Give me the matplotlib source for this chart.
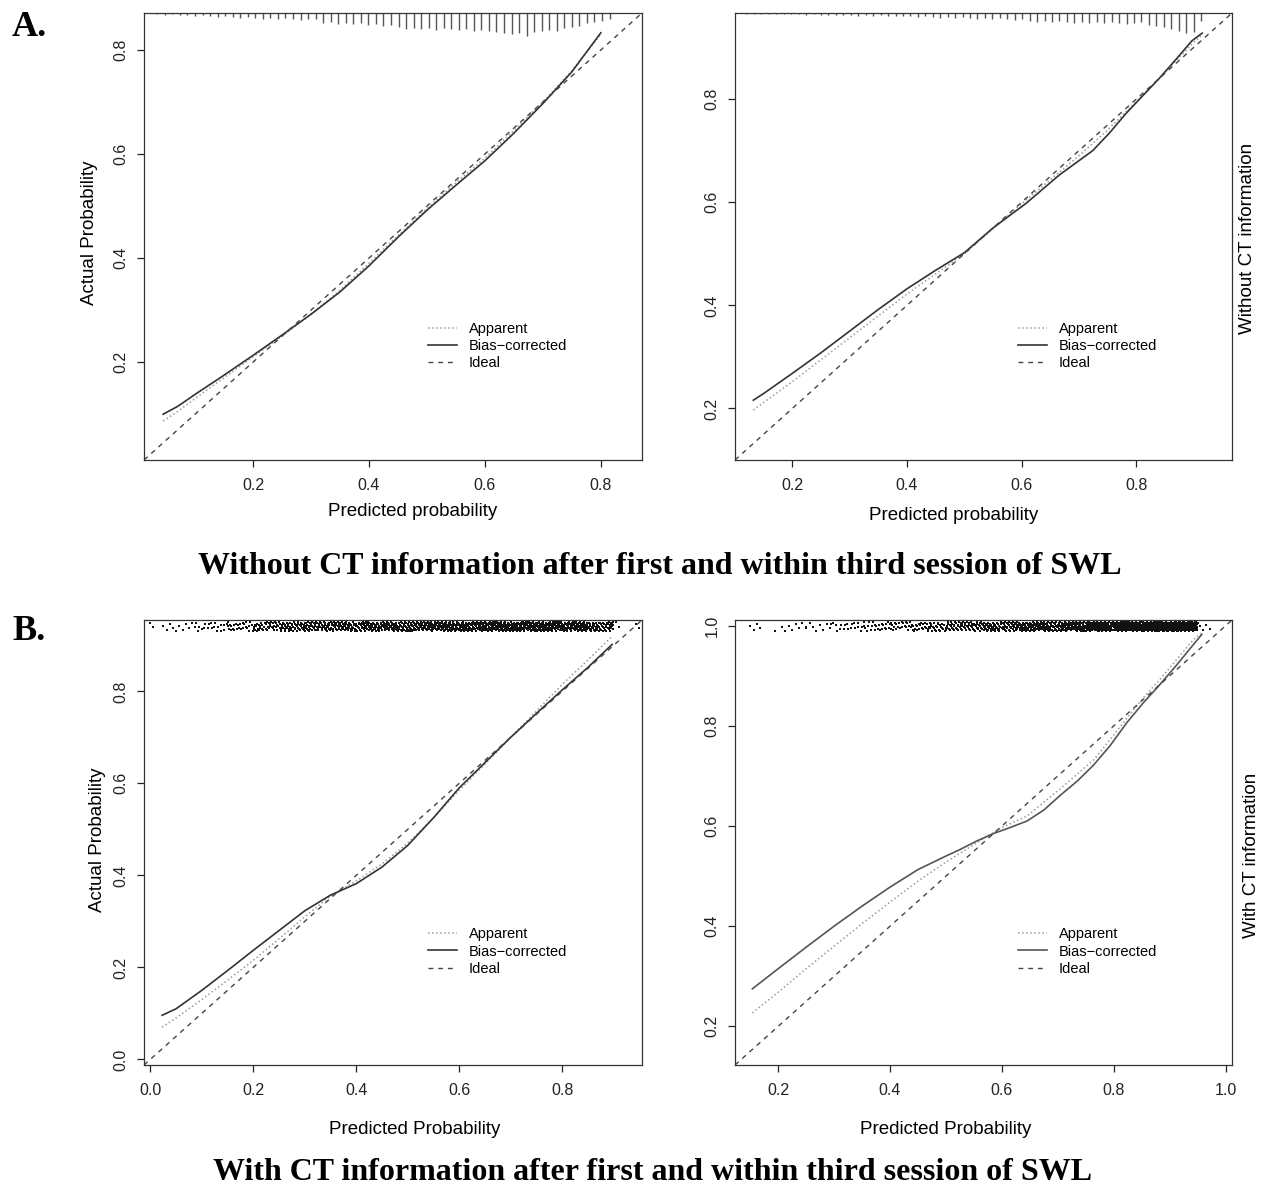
import matplotlib
matplotlib.use('Agg')
import matplotlib.pyplot as plt
import numpy as np

plt.rcParams['font.family'] = ['Liberation Sans', 'DejaVu Sans']

# ---- A 左图：无CT信息 ----
a1_bias_x = [0.045, 0.07, 0.10, 0.15, 0.20, 0.25, 0.30, 0.35, 0.40, 0.45, 0.50, 0.55, 0.60, 0.65, 0.70, 0.75, 0.80]
a1_bias_y = [0.100, 0.115, 0.138, 0.175, 0.213, 0.252, 0.292, 0.335, 0.385, 0.440, 0.492, 0.540, 0.587, 0.640, 0.697, 0.758, 0.833]
a1_app_x = [0.045, 0.07, 0.10, 0.15, 0.20, 0.25, 0.30, 0.35, 0.40, 0.45, 0.50, 0.55, 0.60, 0.65, 0.70, 0.75, 0.80]
a1_app_y = [0.087, 0.105, 0.130, 0.170, 0.210, 0.250, 0.292, 0.338, 0.390, 0.443, 0.495, 0.545, 0.592, 0.645, 0.700, 0.760, 0.830]
a1_rug_x0, a1_rug_step = 0.035, 0.013
a1_rug_h = [1, 2, 1, 2, 2, 3, 2, 3, 4, 3, 4, 5, 4, 5, 6, 5, 6, 5, 6, 7, 6, 6,
            10, 9, 11, 10, 11, 10, 12, 11, 13, 12, 14, 16, 15, 16, 15, 17, 15, 16,
            17, 16, 18, 17, 18, 19, 20, 21, 20, 23, 19, 18, 17, 18, 15, 14, 13, 10, 9, 8, 6]

# ---- A 右图 ----
a2_bias_x = [0.132, 0.15, 0.20, 0.25, 0.30, 0.35, 0.40, 0.45, 0.50, 0.55, 0.608, 0.666, 0.724, 0.753, 0.782, 0.81, 0.84, 0.87, 0.897, 0.915]
a2_bias_y = [0.216, 0.229, 0.268, 0.308, 0.350, 0.392, 0.432, 0.468, 0.502, 0.550, 0.598, 0.653, 0.700, 0.734, 0.772, 0.805, 0.840, 0.878, 0.913, 0.928]
a2_app_x = [0.132, 0.20, 0.30, 0.40, 0.50, 0.60, 0.70, 0.75, 0.80, 0.85, 0.90, 0.915]
a2_app_y = [0.197, 0.252, 0.337, 0.422, 0.500, 0.597, 0.690, 0.740, 0.795, 0.852, 0.910, 0.925]
a2_rug_x0, a2_rug_step = 0.120, 0.013
a2_rug_h = [1, 1, 1, 1, 1, 1, 1, 1, 2, 1, 2, 2, 2, 2, 2, 3, 2, 3, 2, 3, 3, 3,
            3, 4, 3, 4, 5, 4, 5, 4, 5, 6, 5, 6, 5, 6, 7, 6, 8, 9, 8, 9, 8, 9,
            10, 9, 10, 9, 10, 9, 10, 11, 10, 9, 12, 13, 14, 16, 18, 20, 19, 8]

# ---- B 左图：有CT信息 ----
b1_bias_x = [0.023, 0.05, 0.10, 0.15, 0.20, 0.25, 0.30, 0.35, 0.40, 0.45, 0.50, 0.55, 0.60, 0.65, 0.70, 0.75, 0.80, 0.85, 0.897]
b1_bias_y = [0.096, 0.110, 0.150, 0.193, 0.237, 0.280, 0.323, 0.357, 0.382, 0.418, 0.465, 0.525, 0.590, 0.645, 0.700, 0.752, 0.803, 0.852, 0.902]
b1_app_x = [0.023, 0.05, 0.10, 0.15, 0.20, 0.25, 0.30, 0.35, 0.40, 0.45, 0.50, 0.55, 0.60, 0.65, 0.70, 0.75, 0.80, 0.85, 0.897]
b1_app_y = [0.070, 0.090, 0.130, 0.172, 0.215, 0.262, 0.310, 0.355, 0.388, 0.425, 0.470, 0.525, 0.585, 0.642, 0.700, 0.757, 0.815, 0.868, 0.920]
b1_dot_bins = np.arange(0.0, 0.951, 0.05)
b1_dot_counts = [6, 10, 16, 26, 40, 50, 55, 60, 62, 65, 70, 78, 82, 88, 92, 90, 85, 55, 4]

# ---- B 右图 ----
b2_bias_x = [0.154, 0.20, 0.25, 0.30, 0.35, 0.40, 0.45, 0.50, 0.525, 0.555, 0.585, 0.615, 0.645, 0.675, 0.705, 0.735, 0.764, 0.793, 0.823, 0.852, 0.882, 0.912, 0.942, 0.957]
b2_bias_y = [0.275, 0.315, 0.358, 0.400, 0.440, 0.478, 0.513, 0.540, 0.553, 0.570, 0.585, 0.597, 0.610, 0.632, 0.662, 0.690, 0.722, 0.760, 0.806, 0.845, 0.882, 0.921, 0.962, 0.982]
b2_app_x = [0.154, 0.20, 0.25, 0.30, 0.35, 0.40, 0.45, 0.50, 0.55, 0.60, 0.645, 0.705, 0.764, 0.793, 0.823, 0.852, 0.882, 0.942, 0.957]
b2_app_y = [0.227, 0.268, 0.315, 0.360, 0.405, 0.448, 0.490, 0.528, 0.563, 0.597, 0.620, 0.675, 0.732, 0.772, 0.815, 0.855, 0.892, 0.972, 0.985]
b2_dot_bins = np.arange(0.10, 1.001, 0.05)
b2_dot_counts = [2, 5, 8, 10, 16, 24, 30, 38, 50, 60, 70, 80, 90, 105, 120, 135, 140, 4]

legend_labels = ['Apparent', 'Bias\u2212corrected', 'Ideal']

W, H = 1261, 1188
fig = plt.figure(figsize=(W / 100, H / 100), dpi=100)


def make_ax(x0, y0, x1, y1, lim, xticks, yticks):
    ax = fig.add_axes([x0 / W, 1 - y1 / H, (x1 - x0) / W, (y1 - y0) / H])
    ax.set_xlim(lim)
    ax.set_ylim(lim)
    ax.set_xticks(xticks)
    ax.set_yticks(yticks)
    ax.set_xticklabels(['%.1f' % t for t in xticks])
    ax.set_yticklabels(['%.1f' % t for t in yticks], rotation=90, va='center')
    ax.tick_params(direction='out', length=5, width=0.9, labelsize=11.5,
                   colors='#222222', top=False, right=False)
    ax.tick_params(axis='x', pad=8)
    ax.tick_params(axis='y', pad=6)
    for s in ax.spines.values():
        s.set_linewidth(0.9)
        s.set_color('#333333')
    return ax


def draw_curves(ax, app_x, app_y, bias_x, bias_y, lim, bias_color='#333333'):
    ax.plot(app_x, app_y, linestyle=':', color='#9a9a9a', lw=1.1)
    ax.plot(bias_x, bias_y, linestyle='-', color=bias_color, lw=1.2)
    ax.plot(lim, lim, linestyle=(0, (3.5, 3.5)), color='#444444', lw=1.0)
    ax.legend(legend_labels, loc='center left', bbox_to_anchor=(0.555, 0.255),
              frameon=False, fontsize=10.5, handlelength=2.0, handletextpad=0.8,
              labelspacing=0.22, borderpad=0)


def draw_spikes(ax, x0, step, heights):
    xs = x0 + step * np.arange(len(heights))
    hs = np.array(heights) / 447.0
    trans = ax.get_xaxis_transform()
    ax.vlines(xs, 1 - hs, 1, transform=trans, color='#555555', lw=1.0)


def draw_dots(ax, bins, counts):
    # 点在区间内用固定的R2序列排开（全局计数），只由计数决定
    trans = ax.get_xaxis_transform()
    xs, ys = [], []
    j = 0
    for b, n in zip(bins, counts):
        for k in range(n):
            j += 1
            xs.append(b + 0.05 * ((k * 0.7548776662 + j * 0.1234) % 1.0))
            ys.append(0.996 - 0.021 * ((j * 0.5698402910) % 1.0))
    ax.scatter(xs, ys, s=1.2, marker='s', color='#111111', lw=0, transform=trans)


def xlabel_at(ax, text, px_x, px_y, box):
    x0, y0, x1, y1 = box
    ax.set_xlabel(text, fontsize=13.5)
    ax.xaxis.set_label_coords((px_x - x0) / (x1 - x0), (y1 - px_y) / (y1 - y0))
    ax.xaxis.label.set_va('center')


def ylabel_at(ax, text, px_x, px_y, box):
    x0, y0, x1, y1 = box
    ax.set_ylabel(text, fontsize=13.5)
    ax.yaxis.set_label_coords((px_x - x0) / (x1 - x0), (y1 - px_y) / (y1 - y0))
    ax.yaxis.label.set_va('center')


# A 左
box = (144, 13, 642, 460)
lim = (0.012, 0.871)
ax1 = make_ax(*box, lim, [0.2, 0.4, 0.6, 0.8], [0.2, 0.4, 0.6, 0.8])
draw_curves(ax1, a1_app_x, a1_app_y, a1_bias_x, a1_bias_y, lim)
draw_spikes(ax1, a1_rug_x0, a1_rug_step, a1_rug_h)
xlabel_at(ax1, 'Predicted probability', 413, 512, box)
ylabel_at(ax1, 'Actual Probability', 90, 233, box)

# A 右
box = (735, 13, 1232, 460)
lim = (0.100, 0.967)
ax2 = make_ax(*box, lim, [0.2, 0.4, 0.6, 0.8], [0.2, 0.4, 0.6, 0.8])
draw_curves(ax2, a2_app_x, a2_app_y, a2_bias_x, a2_bias_y, lim)
draw_spikes(ax2, a2_rug_x0, a2_rug_step, a2_rug_h)
xlabel_at(ax2, 'Predicted probability', 954, 515, box)
fig.text(1247 / W, 1 - 238 / H, 'Without CT information', rotation=90,
         ha='center', va='center', fontsize=13.5)

# B 左
box = (144, 620, 642, 1065)
lim = (-0.012, 0.955)
ticks = [0.0, 0.2, 0.4, 0.6, 0.8]
ax3 = make_ax(*box, lim, ticks, ticks)
draw_curves(ax3, b1_app_x, b1_app_y, b1_bias_x, b1_bias_y, lim)
draw_dots(ax3, b1_dot_bins, b1_dot_counts)
xlabel_at(ax3, 'Predicted Probability', 415, 1130, box)
ylabel_at(ax3, 'Actual Probability', 98, 840, box)

# B 右
box = (735, 620, 1232, 1065)
lim = (0.123, 1.011)
ticks = [0.2, 0.4, 0.6, 0.8, 1.0]
ax4 = make_ax(*box, lim, ticks, ticks)
draw_curves(ax4, b2_app_x, b2_app_y, b2_bias_x, b2_bias_y, lim, bias_color='#555555')
draw_dots(ax4, b2_dot_bins, b2_dot_counts)
xlabel_at(ax4, 'Predicted Probability', 946, 1130, box)
fig.text(1252 / W, 1 - 855 / H, 'With CT information', rotation=90,
         ha='center', va='center', fontsize=13.5)

# 标题与面板字母
serif = ['Liberation Serif', 'DejaVu Serif']
fig.text(12 / W, 1 - 28 / H, 'A.', family=serif, fontweight='bold', fontsize=26, va='center')
fig.text(12 / W, 1 - 632 / H, 'B.', family=serif, fontweight='bold', fontsize=26, va='center')
fig.text(660 / W, 1 - 567 / H, 'Without CT information after first and within third session of SWL',
         family=serif, fontweight='bold', fontsize=23, ha='center', va='center')
fig.text(653 / W, 1 - 1172 / H, 'With CT information after first and within third session of SWL',
         family=serif, fontweight='bold', fontsize=23, ha='center', va='center')

fig.savefig('out.png', dpi=100)
